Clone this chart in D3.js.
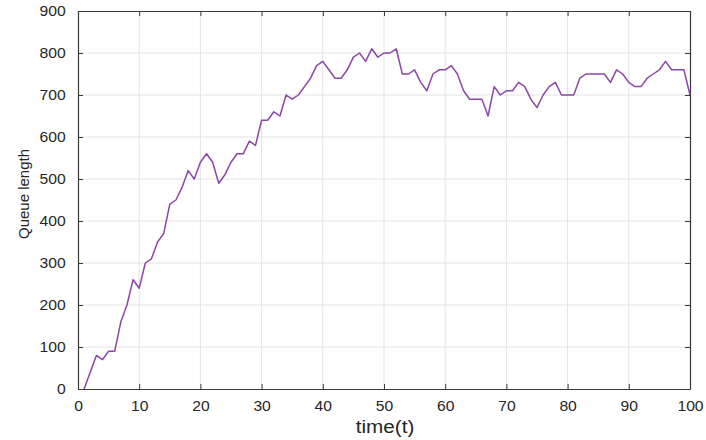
<!DOCTYPE html>
<html>
<head>
<meta charset="utf-8">
<script src="https://cdn.jsdelivr.net/npm/d3@7"></script>
<style>
  html, body { margin: 0; padding: 0; background: #fff; }
  svg text { font-family: "Liberation Sans", Arial, Helvetica, sans-serif; fill: #262626; }
</style>
</head>
<body>
<svg id="chart" width="706" height="440"></svg>
<script>
"use strict";

// time steps (x) and queue length (y)
var timeSteps = [
    1, 2, 3, 4, 5, 6, 7, 8, 9, 10,
    11, 12, 13, 14, 15, 16, 17, 18, 19, 20,
    21, 22, 23, 24, 25, 26, 27, 28, 29, 30,
    31, 32, 33, 34, 35, 36, 37, 38, 39, 40,
    41, 42, 43, 44, 45, 46, 47, 48, 49, 50,
    51, 52, 53, 54, 55, 56, 57, 58, 59, 60,
    61, 62, 63, 64, 65, 66, 67, 68, 69, 70,
    71, 72, 73, 74, 75, 76, 77, 78, 79, 80,
    81, 82, 83, 84, 85, 86, 87, 88, 89, 90,
    91, 92, 93, 94, 95, 96, 97, 98, 99, 100
];
var queueLength = [
    0, 40, 80, 70, 90, 90, 160, 200, 260, 240,
    300, 310, 350, 370, 440, 450, 480, 520, 500, 540,
    560, 540, 490, 510, 540, 560, 560, 590, 580, 640,
    640, 660, 650, 700, 690, 700, 720, 740, 770, 780,
    760, 740, 740, 760, 790, 800, 780, 810, 790, 800,
    800, 810, 750, 750, 760, 730, 710, 750, 760, 760,
    770, 750, 710, 690, 690, 690, 650, 720, 700, 710,
    710, 730, 720, 690, 670, 700, 720, 730, 700, 700,
    700, 740, 750, 750, 750, 750, 730, 760, 750, 730,
    720, 720, 740, 750, 760, 780, 760, 760, 760, 700
];
var xTicks = [0, 10, 20, 30, 40, 50, 60, 70, 80, 90, 100];
var yTicks = [0, 100, 200, 300, 400, 500, 600, 700, 800, 900];

var margin = { left: 78, right: 16, top: 11, bottom: 51 };
var svg = d3.select("#chart");
var width = +svg.attr("width") - margin.left - margin.right;
var height = +svg.attr("height") - margin.top - margin.bottom;
var stretch = "scale(1.12,1)";

var x = d3.scaleLinear().domain([0, 100]).range([0, width]);
var y = d3.scaleLinear().domain([0, 900]).range([height, 0]);

var g = svg.append("g")
    .attr("transform", "translate(" + margin.left + "," + margin.top + ")");

// grid
g.append("g").selectAll("line.vgrid")
    .data(xTicks.slice(1, -1))
  .enter().append("line")
    .attr("x1", function (d) { return x(d); })
    .attr("x2", function (d) { return x(d); })
    .attr("y1", 0).attr("y2", height)
    .attr("stroke", "#e3e3e3").attr("stroke-width", 1);
g.append("g").selectAll("line.hgrid")
    .data(yTicks.slice(1, -1))
  .enter().append("line")
    .attr("y1", function (d) { return y(d); })
    .attr("y2", function (d) { return y(d); })
    .attr("x1", 0).attr("x2", width)
    .attr("stroke", "#e3e3e3").attr("stroke-width", 1);

// axes, ticks pointing inward like MATLAB
var xAxis = g.append("g")
    .attr("transform", "translate(0," + height + ")")
    .call(d3.axisBottom(x).tickValues(xTicks).tickSizeInner(-5).tickSizeOuter(0).tickPadding(13));
var xTop = g.append("g")
    .call(d3.axisTop(x).tickValues(xTicks).tickSizeInner(-5).tickSizeOuter(0).tickFormat(""));
var yAxis = g.append("g")
    .call(d3.axisLeft(y).tickValues(yTicks).tickSizeInner(-5).tickSizeOuter(0).tickPadding(11));
var yRight = g.append("g")
    .attr("transform", "translate(" + width + ",0)")
    .call(d3.axisRight(y).tickValues(yTicks).tickSizeInner(-5).tickSizeOuter(0).tickFormat(""));

[xAxis, xTop, yAxis, yRight].forEach(function (a) {
    a.select(".domain").attr("stroke", "#3a3a3a").attr("stroke-width", 1.2);
    a.selectAll(".tick line").attr("stroke", "#3a3a3a");
    a.selectAll(".tick text")
        .attr("font-size", 14)
        .attr("font-family", null)
        .attr("fill", "#262626")
        .attr("transform", stretch);
});
xAxis.selectAll(".tick text").attr("y", 12).attr("dy", "0.71em");
yAxis.selectAll(".tick text").attr("x", -11);
xTop.selectAll(".tick text").remove();
yRight.selectAll(".tick text").remove();

// the series
var line = d3.line()
    .x(function (d, i) { return x(timeSteps[i]); })
    .y(function (d) { return y(d); });

g.append("path")
    .datum(queueLength)
    .attr("fill", "none")
    .attr("stroke", "#8a47a6")
    .attr("stroke-width", 1.5)
    .attr("stroke-linejoin", "round")
    .attr("d", line);

// axis titles
svg.append("text")
    .attr("transform", "translate(385,433) " + stretch)
    .attr("text-anchor", "middle")
    .attr("font-size", 18.5)
    .text("time(t)");

svg.append("text")
    .attr("transform", "translate(29,194) rotate(-90)")
    .attr("text-anchor", "middle")
    .attr("font-size", 15)
    .text("Queue length");
</script>
</body>
</html>
